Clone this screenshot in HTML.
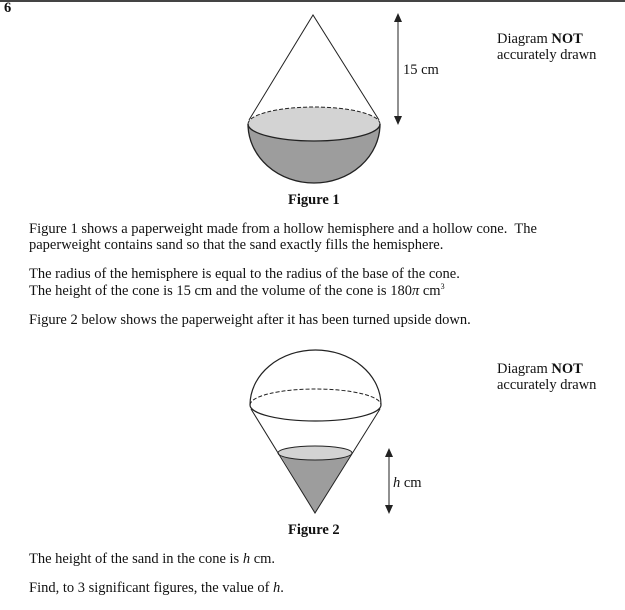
<!DOCTYPE html>
<html><head><style>
body{margin:0;width:625px;height:610px;background:#fff;overflow:hidden;font-family:"Liberation Serif",serif;color:#111;}
.t{position:absolute;font-size:14.5px;white-space:nowrap;line-height:16px;}
sup{font-size:8px;line-height:0;vertical-align:0;position:relative;top:-6px}
svg{position:absolute;left:0;top:0}
</style></head><body>
<svg width="625" height="610">
<line x1="0" y1="1" x2="625" y2="1" stroke="#444" stroke-width="2"/>
<path d="M248,124 A66,59 0 0 0 380,124 Z" fill="#9d9d9d"/>
<ellipse cx="314" cy="124" rx="66" ry="17" fill="#d3d3d3"/>
<path d="M248,124 A66,17 0 0 0 380,124" fill="none" stroke="#222" stroke-width="1.3"/>
<path d="M248,124 A66,17 0 0 1 380,124" fill="none" stroke="#222" stroke-width="1" stroke-dasharray="4,2"/>
<path d="M248,124 A66,59 0 0 0 380,124" fill="none" stroke="#222" stroke-width="1.3"/>
<path d="M249,120 L313,15 L379,120" fill="none" stroke="#222" stroke-width="1"/>
<line x1="398" y1="20" x2="398" y2="118" stroke="#222"/>
<path d="M394,22 L398,13 L402,22 Z M394,116 L398,125 L402,116 Z" fill="#222"/>
<path d="M279,453 L315,513 L352,453 Z" fill="#9d9d9d"/>
<ellipse cx="315" cy="453" rx="37" ry="7" fill="#d3d3d3" stroke="#222" stroke-width="1"/>
<path d="M250,405 A65.5,55 0 0 1 381,405" fill="none" stroke="#222" stroke-width="1.2"/>
<path d="M250,405 A65.5,16 0 0 1 381,405" fill="none" stroke="#222" stroke-width="1" stroke-dasharray="4,2"/>
<path d="M250,405 A65.5,16 0 0 0 381,405" fill="none" stroke="#222" stroke-width="1.2"/>
<path d="M251,409 L315,513 L380,409" fill="none" stroke="#222" stroke-width="1"/>
<line x1="389" y1="454" x2="389" y2="508" stroke="#222"/>
<path d="M385,457 L389,448 L393,457 Z M385,505 L389,514 L393,505 Z" fill="#222"/>
</svg>
<div class="t" style="left:4px;top:0px;font-weight:bold">6</div>
<div class="t" style="left:403px;top:62px">15 cm</div>
<div class="t" style="left:497px;top:31px">Diagram <b>NOT</b><br>accurately drawn</div>
<div class="t" style="left:288px;top:192px;font-weight:bold">Figure 1</div>
<div class="t" style="left:29px;top:221px">Figure 1 shows a paperweight made from a hollow hemisphere and a hollow cone.&nbsp; The</div>
<div class="t" style="left:29px;top:237px">paperweight contains sand so that the sand exactly fills the hemisphere.</div>
<div class="t" style="left:29px;top:266px">The radius of the hemisphere is equal to the radius of the base of the cone.</div>
<div class="t" style="left:29px;top:283px">The height of the cone is 15 cm and the volume of the cone is 180<i>π</i> cm<sup>3</sup></div>
<div class="t" style="left:29px;top:312px">Figure 2 below shows the paperweight after it has been turned upside down.</div>
<div class="t" style="left:497px;top:361px">Diagram <b>NOT</b><br>accurately drawn</div>
<div class="t" style="left:393px;top:475px"><i>h</i> cm</div>
<div class="t" style="left:288px;top:522px;font-weight:bold">Figure 2</div>
<div class="t" style="left:29px;top:551px">The height of the sand in the cone is <i>h</i> cm.</div>
<div class="t" style="left:29px;top:580px">Find, to 3 significant figures, the value of <i>h</i>.</div>
</body></html>
